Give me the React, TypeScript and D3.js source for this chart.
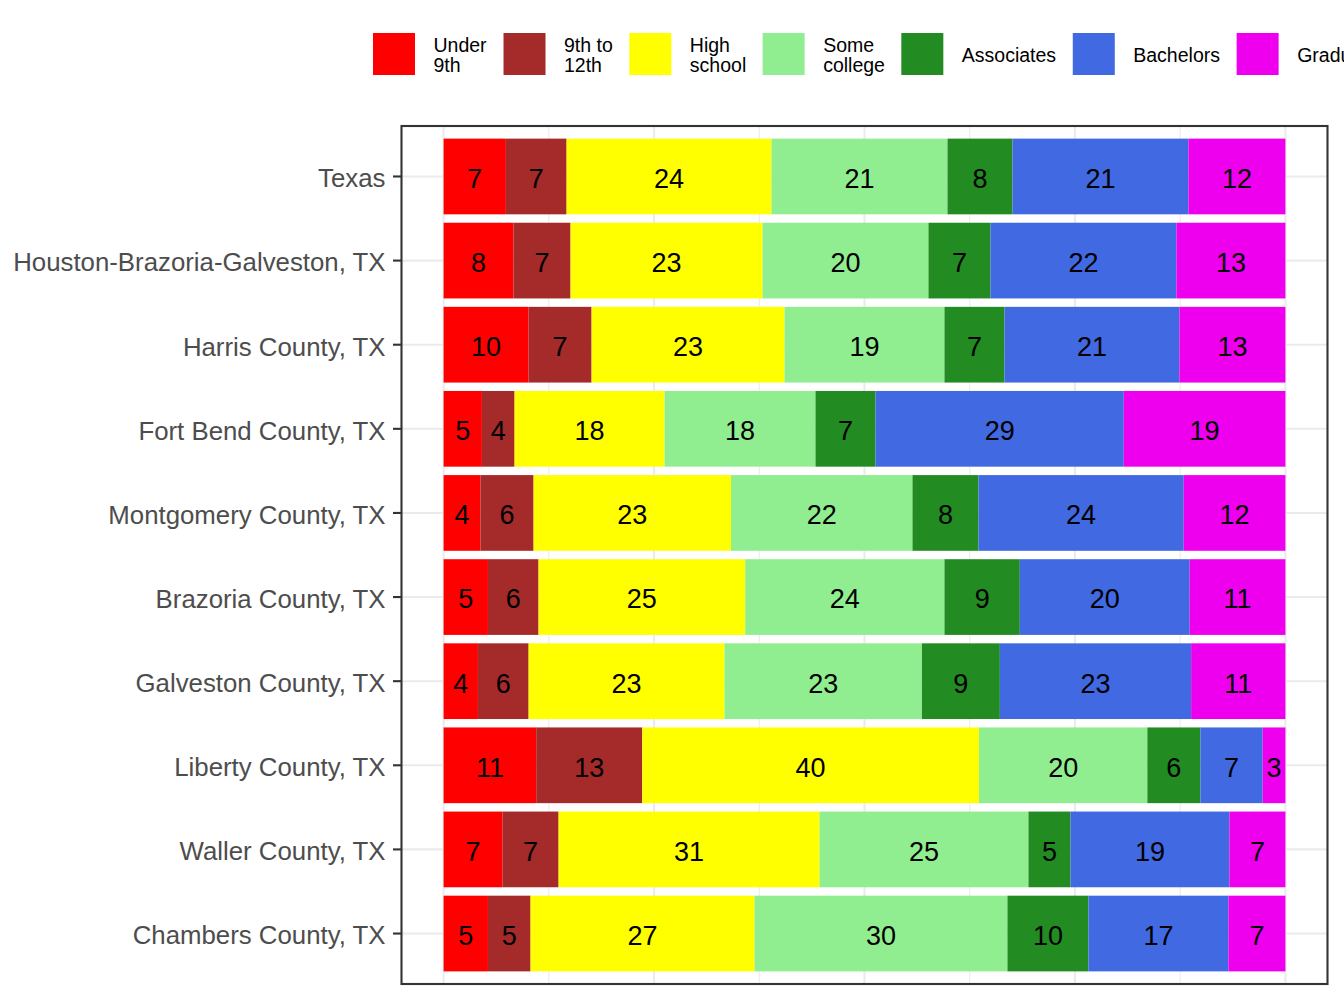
import { useEffect, useRef } from "react";
import * as d3 from "d3";

const categories = [
  "Texas",
  "Houston-Brazoria-Galveston, TX",
  "Harris County, TX",
  "Fort Bend County, TX",
  "Montgomery County, TX",
  "Brazoria County, TX",
  "Galveston County, TX",
  "Liberty County, TX",
  "Waller County, TX",
  "Chambers County, TX",
];

// percent of adults by education level
const underNinth = [7.4, 8.31, 10.1, 4.55, 4.39, 5.27, 4.08, 11.0, 7.01, 5.27];
const ninthTo12th = [7.21, 6.77, 7.48, 3.88, 6.3, 6.01, 6.02, 12.6, 6.65, 5.06];
const highSchool = [24.34, 22.81, 22.92, 17.82, 23.45, 24.55, 23.27, 40.0, 31.0, 26.61];
const someCollege = [20.91, 19.71, 19.0, 17.93, 21.56, 23.67, 23.45, 20.0, 24.82, 30.04];
const associates = [7.72, 7.36, 7.13, 7.13, 7.84, 8.95, 9.26, 6.3, 4.99, 9.62];
const bachelors = [20.9, 22.09, 20.78, 29.49, 24.38, 20.18, 22.72, 7.4, 18.88, 16.63];
const graduate = [11.52, 12.95, 12.59, 19.2, 12.08, 11.37, 11.2, 2.7, 6.65, 6.77];

const levels = ["under9", "9to12", "hs", "some", "assoc", "bach", "grad"];
const levelLabels = [
  ["Under", "9th"],
  ["9th to", "12th"],
  ["High", "school"],
  ["Some", "college"],
  ["Associates"],
  ["Bachelors"],
  ["Graduate"],
];
const levelColors = [
  "#FF0000",
  "#A52A2A",
  "#FFFF00",
  "#90EE90",
  "#228B22",
  "#4169E1",
  "#EE00EE",
];

const FONT = "'Liberation Sans', Arial, Helvetica, sans-serif";

type Row = { name: string; [k: string]: number | string };

export default function App() {
  const ref = useRef<SVGSVGElement>(null);

  useEffect(() => {
    if (!ref.current) return;
    const width = 1344;
    const height = 1008;
    const svg = d3.select(ref.current);
    svg.selectAll("*").remove();
    svg.attr("width", width).attr("height", height);

    const series = [underNinth, ninthTo12th, highSchool, someCollege, associates, bachelors, graduate];
    const rows: Row[] = categories.map((name, i) => {
      const r: Row = { name };
      levels.forEach((k, j) => (r[k] = series[j][i]));
      return r;
    });

    const panel = { left: 401.5, right: 1327.5, top: 126, bottom: 984 };
    const pad = (panel.right - panel.left) / 1.1 * 0.05;

    const x = d3
      .scaleLinear()
      .domain([0, 1])
      .range([panel.left + pad, panel.right - pad]);
    const y = d3
      .scaleBand<string>()
      .domain(categories)
      .range([panel.top, panel.bottom])
      .paddingInner(0.1)
      .paddingOuter(0.15);

    const stack = d3
      .stack<Row>()
      .keys(levels)
      .value((d, k) => d[k] as number)
      .offset(d3.stackOffsetExpand);
    const stacked = stack(rows);

    // grid
    const grid = svg.append("g");
    grid
      .selectAll("line.minor")
      .data([0.125, 0.375, 0.625, 0.875])
      .enter()
      .append("line")
      .attr("x1", (d) => x(d))
      .attr("x2", (d) => x(d))
      .attr("y1", panel.top)
      .attr("y2", panel.bottom)
      .attr("stroke", "#EBEBEB")
      .attr("stroke-width", 1.1);
    grid
      .selectAll("line.major")
      .data([0, 0.25, 0.5, 0.75, 1])
      .enter()
      .append("line")
      .attr("x1", (d) => x(d))
      .attr("x2", (d) => x(d))
      .attr("y1", panel.top)
      .attr("y2", panel.bottom)
      .attr("stroke", "#EBEBEB")
      .attr("stroke-width", 2.1);
    grid
      .selectAll("line.h")
      .data(categories)
      .enter()
      .append("line")
      .attr("x1", panel.left)
      .attr("x2", panel.right)
      .attr("y1", (d) => y(d)! + y.bandwidth() / 2)
      .attr("y2", (d) => y(d)! + y.bandwidth() / 2)
      .attr("stroke", "#EBEBEB")
      .attr("stroke-width", 2.1);

    // bars
    const layers = svg
      .selectAll("g.layer")
      .data(stacked)
      .enter()
      .append("g")
      .attr("fill", (_d, i) => levelColors[i]);

    layers
      .selectAll("rect")
      .data((d) => d)
      .enter()
      .append("rect")
      .attr("x", (d) => x(d[0]))
      .attr("width", (d) => x(d[1]) - x(d[0]))
      .attr("y", (d) => y(d.data.name)!)
      .attr("height", y.bandwidth());

    layers
      .selectAll("text")
      .data((d) => d.map((p) => ({ p, key: d.key })))
      .enter()
      .append("text")
      .attr("x", (d) => (x(d.p[0]) + x(d.p[1])) / 2)
      .attr("y", (d) => y(d.p.data.name)! + y.bandwidth() / 2)
      .attr("dy", "0.42em")
      .attr("text-anchor", "middle")
      .attr("fill", "#000")
      .style("font-family", FONT)
      .style("font-size", "27px")
      .text((d) => Math.round(d.p.data[d.key] as number));

    // panel border
    svg
      .append("rect")
      .attr("x", panel.left)
      .attr("y", panel.top)
      .attr("width", panel.right - panel.left)
      .attr("height", panel.bottom - panel.top)
      .attr("fill", "none")
      .attr("stroke", "#333333")
      .attr("stroke-width", 2.1);

    // y axis
    const yAxis = svg.append("g");
    yAxis
      .selectAll("line")
      .data(categories)
      .enter()
      .append("line")
      .attr("x1", panel.left - 8.5)
      .attr("x2", panel.left)
      .attr("y1", (d) => y(d)! + y.bandwidth() / 2)
      .attr("y2", (d) => y(d)! + y.bandwidth() / 2)
      .attr("stroke", "#333333")
      .attr("stroke-width", 2.1);
    yAxis
      .selectAll("text")
      .data(categories)
      .enter()
      .append("text")
      .attr("x", panel.left - 16)
      .attr("y", (d) => y(d)! + y.bandwidth() / 2)
      .attr("dy", "0.42em")
      .attr("text-anchor", "end")
      .attr("fill", "#4D4D4D")
      .style("font-family", FONT)
      .style("font-size", "25.8px")
      .text((d) => d);

    // legend (runs off the right edge like the original)
    const legend = svg.append("g");
    let lx = 373;
    const keySize = 42;
    const keyTop = 33;
    levels.forEach((_k, i) => {
      const g = legend.append("g");
      g.append("rect")
        .attr("x", lx)
        .attr("y", keyTop)
        .attr("width", keySize)
        .attr("height", keySize)
        .attr("fill", levelColors[i]);
      const lines = levelLabels[i];
      const t = g
        .append("text")
        .attr("fill", "#000")
        .style("font-family", FONT)
        .style("font-size", "19.5px");
      const lh = 20.5;
      lines.forEach((s, j) => {
        t.append("tspan")
          .attr("x", lx + keySize + 18.5)
          .attr("y", keyTop + keySize / 2 + (j - (lines.length - 1) / 2) * lh)
          .attr("dy", "0.4em")
          .text(s);
      });
      const w = (t.node() as SVGTextElement).getBBox().width;
      lx += keySize + 18.5 + w + 16.4;
    });
  }, []);

  return (
    <div style={{ position: "absolute", left: 0, top: 0, background: "#fff" }}>
      <svg ref={ref} style={{ display: "block" }} />
    </div>
  );
}
